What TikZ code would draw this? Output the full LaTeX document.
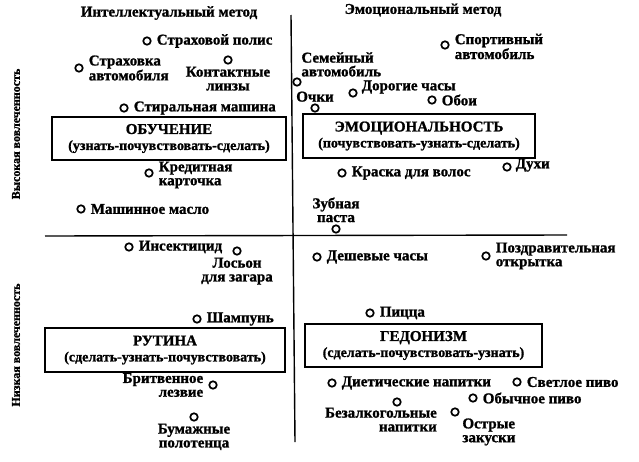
\documentclass[tikz,border=0pt]{standalone}
\usepackage{fontspec}
\setmainfont[BoldFeatures={FakeBold=1.2}]{Liberation Serif}
\usetikzlibrary{positioning}
\newcommand{\zonesub}[1]{{\fontsize{14}{16}\selectfont #1}}
\tikzset{
  dot/.style = {circle, draw, line width=1.7pt, inner sep=0pt, minimum size=7.5pt},
  lbl/.style = {font=\fontsize{15}{13.8}\selectfont\bfseries, inner sep=0pt, align=left},
  head/.style = {font=\fontsize{15}{15}\selectfont\bfseries, inner sep=0pt},
  side/.style = {font=\fontsize{12}{12}\selectfont\bfseries, inner sep=0pt, rotate=90},
  zone/.style = {draw, line width=1.5pt, align=center, inner sep=0pt,
                 font=\fontsize{15}{16}\selectfont\bfseries},
  axis/.style = {line width=1.4pt}
}
\begin{document}
\begin{tikzpicture}[x=1pt, y=-1pt]
\useasboundingbox (0,0) rectangle (639,461);
% axes
\coordinate (vtop) at (291,15);
\coordinate (vbot) at (295,442);
\coordinate (hleft) at (45,236);
\coordinate (hright) at (567,235);
\draw [axis] (vtop) -- (vbot);
\draw [axis] (hleft) -- (hright);
% headers
\node [head] (intel) at (169,13) {Интеллектуальный метод};
\node [head] (emoc) at (423,10) {Эмоциональный метод};
\node [side] (vys) at (16,134) {Высокая вовлеченность};
\node [side] (niz) at (16,345) {Низкая вовлеченность};
% quadrant boxes
\node [zone, minimum width=234pt, minimum height=43pt] (obuch) at (169,138.5)
  {ОБУЧЕНИЕ\\\zonesub{(узнать-почувствовать-сделать)}};
\node [zone, minimum width=232pt, minimum height=44pt] (emot) at (419,136)
  {ЭМОЦИОНАЛЬНОСТЬ\\\zonesub{(почувствовать-узнать-сделать)}};
\node [zone, minimum width=240pt, minimum height=44pt] (rutina) at (165,350)
  {РУТИНА\\\zonesub{(сделать-узнать-почувствовать)}};
\node [zone, minimum width=237pt, minimum height=43pt] (gedon) at (423.5,345.5)
  {ГЕДОНИЗМ\\\zonesub{(сделать-почувствовать-узнать)}};
% high involvement, intellectual
\node [dot] (polis) at (147,41) {};
\node [lbl, right=5pt of polis] (polist) {Страховой полис};
\node [dot] (strakh) at (79,68) {};
\node [lbl, right=5pt of strakh] (strakht) {Страховка\\автомобиля};
\node [dot] (linzy) at (228,60) {};
\node [lbl, below=2pt of linzy, align=center] (linzyt) {Контактные\\линзы};
\node [dot] (stir) at (124,108) {};
\node [lbl, right=5pt of stir] (stirt) {Стиральная машина};
\node [dot] (kredit) at (149,173) {};
\node [lbl, right=5pt of kredit, yshift=-2pt] (kreditt) {Кредитная\\карточка};
\node [dot] (maslo) at (81,209) {};
\node [lbl, right=5pt of maslo] (maslot) {Машинное масло};
% high involvement, emotional
\node [dot] (semavto) at (297,82) {};
\node [lbl, above right=2pt and 1pt of semavto] (semavtot) {Семейный\\автомобиль};
\node [dot] (ochki) at (315,108) {};
\node [lbl, above=1.5pt of ochki] (ochkit) {Очки};
\node [dot] (dorog) at (353,93) {};
\node [lbl, right=4pt of dorog, yshift=6pt] (dorogt) {Дорогие часы};
\node [dot] (oboi) at (432,100) {};
\node [lbl, right=5pt of oboi] (oboit) {Обои};
\node [dot] (sport) at (445,45) {};
\node [lbl, right=5pt of sport, yshift=-1.5pt] (sportt) {Спортивный\\автомобиль};
\node [dot] (dukhi) at (507,167) {};
\node [lbl, right=4pt of dukhi, yshift=2pt] (dukhit) {Духи};
\node [dot] (kraska) at (342,173) {};
\node [lbl, right=5pt of kraska] (kraskat) {Краска для волос};
\node [dot] (pasta) at (336,229) {};
\node [lbl, above=2pt of pasta, align=center] (pastat) {Зубная\\паста};
% low involvement, intellectual
\node [dot] (insekt) at (129,247) {};
\node [lbl, right=5pt of insekt] (insektt) {Инсектицид};
\node [dot] (losion) at (237,251) {};
\node [lbl, below=2pt of losion, align=center] (losiont) {Лосьон\\для загара};
\node [dot] (shamp) at (197,319) {};
\node [lbl, right=5pt of shamp] (shampt) {Шампунь};
\node [dot] (britv) at (213,385) {};
\node [lbl, left=5pt of britv, align=right] (britvt) {Бритвенное\\лезвие};
\node [dot] (bumazh) at (194,417) {};
\node [lbl, below=2pt of bumazh, align=center] (bumazht) {Бумажные\\полотенца};
% low involvement, emotional
\node [dot] (deshev) at (317,257) {};
\node [lbl, right=5pt of deshev] (deshevt) {Дешевые часы};
\node [dot] (pozdr) at (486,256) {};
\node [lbl, right=5pt of pozdr] (pozdrt) {Поздравительная\\открытка};
\node [dot] (pizza) at (370,313) {};
\node [lbl, right=5pt of pizza] (pizzat) {Пицца};
\node [dot] (diet) at (332,383) {};
\node [lbl, right=5pt of diet] (dietl) {Диетические напитки};
\node [dot] (svetl) at (517,382) {};
\node [lbl, right=5pt of svetl] (svetlt) {Светлое пиво};
\node [dot] (obych) at (473,398) {};
\node [lbl, right=5pt of obych] (obycht) {Обычное пиво};
\node [dot] (bezalk) at (397,402) {};
\node [lbl, below=1pt of bezalk, xshift=-16pt, align=right] (bezalkt) {Безалкогольные\\напитки};
\node [dot] (ostr) at (455,412) {};
\node [lbl, below right=3pt and 4pt of ostr] (ostrt) {Острые\\закуски};
\end{tikzpicture}
\end{document}
